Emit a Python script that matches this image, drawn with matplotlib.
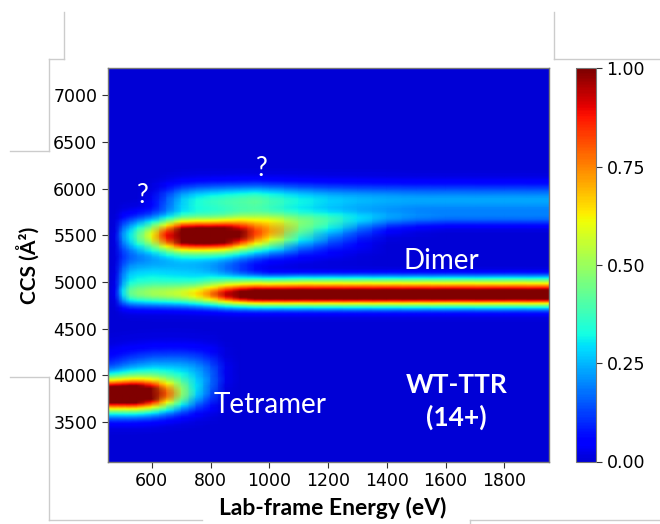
import numpy as np
import matplotlib
matplotlib.use("Agg")
import matplotlib.pyplot as plt
from matplotlib.colors import ListedColormap
from matplotlib.lines import Line2D

# ---- data ----
energies = [450, 475, 500, 525, 550, 600, 650, 700, 750, 800, 850, 900, 950, 1000,
            1100, 1200, 1300, 1400, 1500, 1600, 1800, 1950]

# species: CCS centre, CCS width, relative intensity at each energy
tetramer_ccs, tetramer_w = 3790, 125
tetramer_amp = [1.2, 1.2, 1.2, 1.2, 1.18, 1.0, 0.7, 0.4, 0.2, 0.08, 0, 0, 0, 0,
                0, 0, 0, 0, 0, 0, 0, 0]
tetramer2_ccs, tetramer2_w = 4030, 165
tetramer2_amp = [0.1, 0.12, 0.15, 0.18, 0.2, 0.24, 0.25, 0.25, 0.22, 0.15, 0.03, 0, 0, 0,
                 0, 0, 0, 0, 0, 0, 0, 0]
dimer_ccs, dimer_w = 4865, 85
dimer_amp = [0, 0.02, 0.2, 0.3, 0.33, 0.37, 0.4, 0.44, 0.52, 0.65, 0.85, 1.0, 1.1, 1.12,
             1.12, 1.12, 1.12, 1.12, 1.12, 1.12, 1.12, 1.12]
dimer_broad_ccs, dimer_broad_w = 5060, 150
dimer_broad_amp = [0, 0.02, 0.18, 0.26, 0.28, 0.29, 0.28, 0.27, 0.26, 0.23, 0.17, 0.1, 0.04, 0,
                   0, 0, 0, 0, 0, 0, 0, 0]
shoulder_ccs, shoulder_w = 5010, 55
shoulder_amp = [0, 0, 0, 0, 0, 0, 0, 0, 0, 0.05, 0.1, 0.15, 0.2, 0.22,
                0.25, 0.25, 0.25, 0.25, 0.25, 0.25, 0.25, 0.25]
s5500_ccs, s5500_w = 5500, 130
s5500_amp = [0, 0.02, 0.2, 0.3, 0.4, 0.6, 0.88, 1.15, 1.2, 1.2, 1.15, 0.95, 0.75, 0.6,
             0.3, 0.15, 0.06, 0, 0, 0, 0, 0]
s5620_ccs, s5620_w = 5620, 90
s5620_amp = [0, 0, 0, 0, 0, 0, 0, 0, 0, 0, 0.05, 0.12, 0.16, 0.2,
             0.2, 0.18, 0.12, 0.06, 0.02, 0, 0, 0]
s5880_ccs, s5880_w = 5880, 115
s5880_amp = [0, 0, 0, 0, 0, 0.03, 0.14, 0.25, 0.31, 0.34, 0.36, 0.38, 0.4, 0.37,
             0.31, 0.27, 0.25, 0.24, 0.23, 0.23, 0.23, 0.23]
s5680_ccs, s5680_w = 5690, 60
s5680_amp = [0, 0, 0, 0, 0, 0, 0, 0, 0, 0, 0, 0.05, 0.08, 0.1,
             0.11, 0.12, 0.12, 0.12, 0.12, 0.12, 0.12, 0.12]

species = [
    (tetramer_ccs, tetramer_w, tetramer_amp),
    (tetramer2_ccs, tetramer2_w, tetramer2_amp),
    (dimer_ccs, dimer_w, dimer_amp),
    (dimer_broad_ccs, dimer_broad_w, dimer_broad_amp),
    (shoulder_ccs, shoulder_w, shoulder_amp),
    (s5500_ccs, s5500_w, s5500_amp),
    (s5620_ccs, s5620_w, s5620_amp),
    (s5880_ccs, s5880_w, s5880_amp),
    (s5680_ccs, s5680_w, s5680_amp),
]

ccs_axis = np.arange(3070, 7300, 10)
E = np.array(energies, dtype=float)
Z = np.zeros((len(ccs_axis), len(E)))
for c, w, amp in species:
    prof = np.exp(-0.5 * ((ccs_axis - c) / w) ** 2)
    Z += prof[:, None] * np.array(amp)[None, :]

cbar_ticks = [0.0, 0.25, 0.5, 0.75, 1.0]
x_ticks = [600, 800, 1000, 1200, 1400, 1600, 1800]
y_ticks = [3500, 4000, 4500, 5000, 5500, 6000, 6500, 7000]

# ---- figure ----
W, H = 660, 524
fig = plt.figure(figsize=(W / 100, H / 100), dpi=100)

def fx(px):
    return px / W

def fy(py):
    return 1 - py / H

ax = fig.add_axes([fx(107.7), fy(461.5), fx(548.5) - fx(107.7), fy(68.3) - fy(461.5)])
cax = fig.add_axes([fx(576), fy(461.5), fx(596) - fx(576), fy(68.3) - fy(461.5)])

cmap = ListedColormap(plt.cm.jet(np.linspace(0.075, 1.0, 256)))
mesh = ax.pcolormesh(E, ccs_axis, Z, cmap=cmap, vmin=0, vmax=1, shading="gouraud")
ax.set_xlim(450, 1950)
ax.set_ylim(3075, 7290)
ax.set_facecolor(cmap(0.0))
ax.set_xticks(x_ticks)
ax.set_yticks(y_ticks)
ax.tick_params(labelsize=12.5, length=4, width=0.8, color="#333333")
for s in ax.spines.values():
    s.set_color("#777777")
    s.set_linewidth(1.0)

cb = fig.colorbar(mesh, cax=cax, ticks=cbar_ticks)
cb.ax.set_yticklabels([f"{t:.2f}" for t in cbar_ticks])
cb.ax.tick_params(labelsize=12.5, length=4, width=0.8, color="#333333")
cb.outline.set_edgecolor("#777777")

fig.text(fx(333), fy(508), "Lab-frame Energy (eV)", family="Lato", fontweight="bold",
         fontsize=16.5, ha="center", va="center")
fig.text(fx(28), fy(265), "CCS (Å²)", family="Lato", fontweight="bold", fontsize=15,
         rotation=90, ha="center", va="center")

tk = dict(color="white", family="Lato", ha="center", va="center")
ax.text(570, 5930, "?", fontsize=19, **tk)
ax.text(973, 6220, "?", fontsize=19, **tk)
ax.text(1584, 5224, "Dimer", fontsize=20, **tk)
ax.text(1004, 3680, "Tetramer", fontsize=20, **tk)
ax.text(1636, 3720, "WT-TTR\n(14+)", fontsize=19, fontweight="bold", linespacing=1.35, **tk)

# light grey frame fragments around the figure
segs = [((64, 12), (64, 59)), ((49, 59), (64, 59)), ((49, 59), (49, 151)),
        ((10, 151), (49, 151)), ((10, 377), (49, 377)), ((49, 377), (49, 520)),
        ((49, 520), (202, 520)), ((470, 520), (660, 520)), ((470, 520), (470, 524)),
        ((554, 12), (554, 59)), ((554, 59), (660, 59))]
for (x0, y0), (x1, y1) in segs:
    fig.add_artist(Line2D([fx(x0), fx(x1)], [fy(y0), fy(y1)], transform=fig.transFigure,
                          color="#cccccc", lw=1.0))

fig.savefig("out.png", dpi=100)
